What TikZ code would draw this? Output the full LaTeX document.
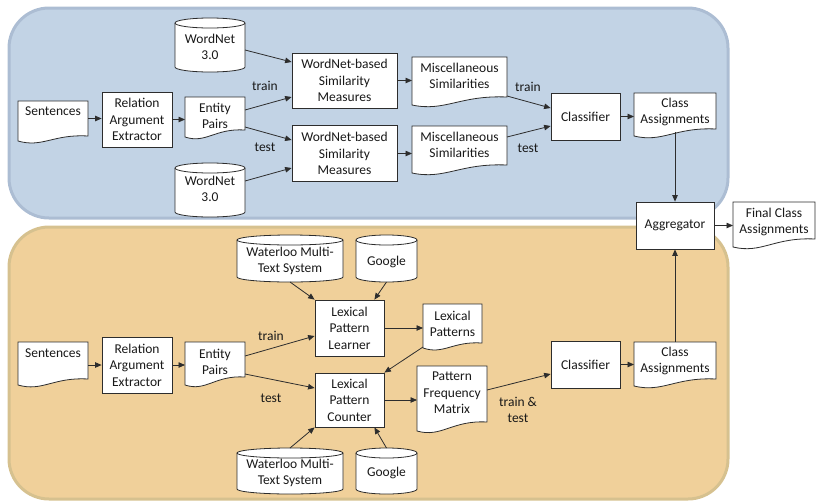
\documentclass[tikz,border=0pt]{standalone}
\usepackage{fontspec}
\setmainfont{Carlito}
\usetikzlibrary{arrows.meta}
\definecolor{bluefill}{RGB}{194,211,229}
\definecolor{blueedge}{RGB}{172,189,211}
\definecolor{orfill}{RGB}{240,208,154}
\definecolor{oredge}{RGB}{214,193,143}
\definecolor{linec}{RGB}{45,45,45}
\definecolor{txtc}{RGB}{25,25,25}
\tikzset{
  shp/.style={draw=linec, fill=white, line width=0.8pt},
  box/.style={shp, align=center, inner sep=0pt, text=txtc, font=\lbfont},
  anch/.style={inner sep=0pt, outer sep=0pt},
  lbl/.style={align=center, inner sep=0pt, text=txtc, font=\lbfont},
  arr/.style={draw=linec, line width=0.8pt, -{Triangle[length=6.5pt,width=5.5pt]}},
}
\newcommand\lbfont{\fontsize{13.5}{16.5}\selectfont}
\newcommand\docs[8]{%
  \draw[shp] ({#2},{-(#3)}) -- ({#2+#4},{-(#3)}) -- ({#2+#4},{-(#3+#5)})
    .. controls ({#2+0.5*#4},{-(#3+#5)+2}) and ({#2+0.35*#4},{-(#3+#5+#6+7)}) .. ({#2},{-(#3+#5+#6)}) -- cycle;
  \node[anch, minimum width=#4pt, minimum height=#5pt] (#1) at ({#2+#4/2},{-(#3+#5/2)}) {};
  \node[lbl] (#1t) at ({#2+#4/2},{-(#8)}) {#7};
}
\newcommand\cyl[7]{%
  \draw[shp] ({#2},{-(#3+5)}) -- ({#2},{-(#3+#5-5)})
    arc[start angle=180, end angle=360, x radius={#4/2}, y radius=5]
    -- ({#2+#4},{-(#3+5)})
    arc[start angle=0, end angle=180, x radius={#4/2}, y radius=5] -- cycle;
  \draw[draw=linec, line width=0.8pt] ({#2},{-(#3+5)}) arc[start angle=180, end angle=360, x radius={#4/2}, y radius=5];
  \node[anch, minimum width=#4pt, minimum height=#5pt] (#1) at ({#2+#4/2},{-(#3+#5/2)}) {};
  \node[lbl] (#1t) at ({#2+#4/2},{-(#7)}) {#6};
}
\begin{document}
\begin{tikzpicture}[x=1pt,y=1pt]
\useasboundingbox (0,0) rectangle (822,-501);
% panels
\draw[fill=bluefill, draw=blueedge, line width=3pt, rounded corners=40pt] (9,-8) rectangle (728,-218);
\draw[fill=orfill, draw=oredge, line width=3pt, rounded corners=40pt] (9,-227) rectangle (728,-499);

% ---------- top panel ----------
\docs{sent1}{18}{101}{70}{35}{5}{Sentences}{111}
\node[box, minimum width=70pt, minimum height=55pt] (rae1) at (137,-119.5) {Relation\\Argument\\Extractor};
\docs{ep1}{185}{97}{60}{33}{7}{Entity\\Pairs}{116}
\cyl{wn1}{175}{18}{70}{54}{WordNet\\3.0}{47}
\cyl{wn2}{175}{163}{70}{54}{WordNet\\3.0}{189}
\node[box, minimum width=105pt, minimum height=55pt] (wnb1) at (344.5,-80.5) {WordNet-based\\Similarity\\Measures};
\node[box, minimum width=105pt, minimum height=56pt] (wnb2) at (344.5,-153.5) {WordNet-based\\Similarity\\Measures};
\docs{misc1}{412}{57}{95}{40}{8}{Miscellaneous\\Similarities}{76}
\docs{misc2}{412}{126}{95}{39}{8}{Miscellaneous\\Similarities}{145}
\node[box, minimum width=69pt, minimum height=47pt] (cls1) at (585.5,-116.5) {Classifier};
\docs{ca1}{634}{93}{82}{36}{7}{Class\\Assignments}{112}
\node[box, minimum width=78pt, minimum height=47pt] (agg) at (675,-225.5) {Aggregator};
\docs{final}{733}{202}{82}{37}{8}{Final Class\\Assignments}{222}

\node[lbl] (l1) at (265,-86) {train};
\node[lbl] (l2) at (265,-147) {test};
\node[lbl] (l3) at (528,-87) {train};
\node[lbl] (l4) at (528,-148) {test};

% ---------- bottom panel ----------
\docs{sent2}{18}{342}{70}{37}{6}{Sentences}{353}
\node[box, minimum width=70pt, minimum height=56pt] (rae2) at (137,-365) {Relation\\Argument\\Extractor};
\docs{ep2}{185}{342}{60}{35}{8}{Entity\\Pairs}{362}
\cyl{wat1}{237}{235}{106}{47}{Waterloo Multi-\\Text System}{261}
\cyl{goo1}{356}{235}{61}{47}{Google}{262}
\cyl{wat2}{237}{448}{106}{46}{Waterloo Multi-\\Text System}{473}
\cyl{goo2}{356}{448}{61}{46}{Google}{473}
\node[box, minimum width=69pt, minimum height=56pt] (lpl) at (349.5,-328) {Lexical\\Pattern\\Learner};
\node[box, minimum width=69pt, minimum height=54pt] (lpc) at (349.5,-400) {Lexical\\Pattern\\Counter};
\docs{lp}{423}{304}{59}{39}{5}{Lexical\\Patterns}{324}
\docs{pfm}{417}{366}{70}{56}{9}{Pattern\\Frequency\\Matrix}{393}
\node[box, minimum width=69pt, minimum height=47pt] (cls2) at (585.5,-364.5) {Classifier};
\docs{ca2}{634}{342}{82}{37}{7}{Class\\Assignments}{361}

\node[lbl] (l5) at (271,-336) {train};
\node[lbl] (l6) at (271,-398) {test};
\node[lbl] (l7) at (518,-410) {train \&\\test};

% ---------- arrows top ----------
\draw[arr] (sent1.east) -- (sent1.east -| rae1.west);
\draw[arr] (rae1.east) -- (rae1.east -| ep1.west);
\draw[arr] ([yshift=3.5pt]ep1.east) -- ([yshift=-16.5pt]wnb1.west);
\draw[arr] ([yshift=-13.5pt]ep1.east) -- ([yshift=13.5pt]wnb2.west);
\draw[arr] ([yshift=-5pt]wn1.east) -- ([yshift=18.5pt]wnb1.west);
\draw[arr] ([yshift=9pt]wn2.east) -- ([yshift=-14.5pt]wnb2.west);
\draw[arr] (wnb1.east) -- (wnb1.east -| misc1.west);
\draw[arr] (wnb2.east) -- (wnb2.east -| misc2.west);
\draw[arr] ([yshift=-19pt]misc1.east) -- ([yshift=8.5pt]cls1.west);
\draw[arr] ([yshift=8.5pt]misc2.east) -- ([yshift=-9.5pt]cls1.west);
\draw[arr] (cls1.east) -- (cls1.east -| ca1.west);
\draw[arr] ([yshift=-3pt]ca1.south) -- (agg.north);
\draw[arr] (agg.east) -- (agg.east -| final.west);

% ---------- arrows bottom ----------
\draw[arr] (rae2.west -| sent2.east) -- (rae2.west);
\draw[arr] (rae2.east) -- (rae2.east -| ep2.west);
\draw[arr] ([yshift=3.5pt]ep2.east) -- ([yshift=-8pt]lpl.west);
\draw[arr] ([yshift=-14.5pt]ep2.east) -- ([yshift=12pt]lpc.west);
\draw[arr] (wat1.south) -- (lpl.north west);
\draw[arr] (goo1.south) -- ([xshift=-10pt]lpl.north east);
\draw[arr] (lpl.east) -- (lpl.east -| lp.west);
\draw[arr] ([yshift=-4pt]lp.south west) -- (lpc.north east);
\draw[arr] (lpc.east) -- (lpc.east -| pfm.west);
\draw[arr] ([yshift=4pt]pfm.east) -- ([yshift=-9.5pt]cls2.west);
\draw[arr] (cls2.east) -- (cls2.east -| ca2.west);
\draw[arr] (ca2.north) -- (agg.south);
\draw[arr] (wat2.north) -- (lpc.south west);
\draw[arr] (goo2.north) -- ([xshift=-10pt]lpc.south east);
\end{tikzpicture}
\end{document}
